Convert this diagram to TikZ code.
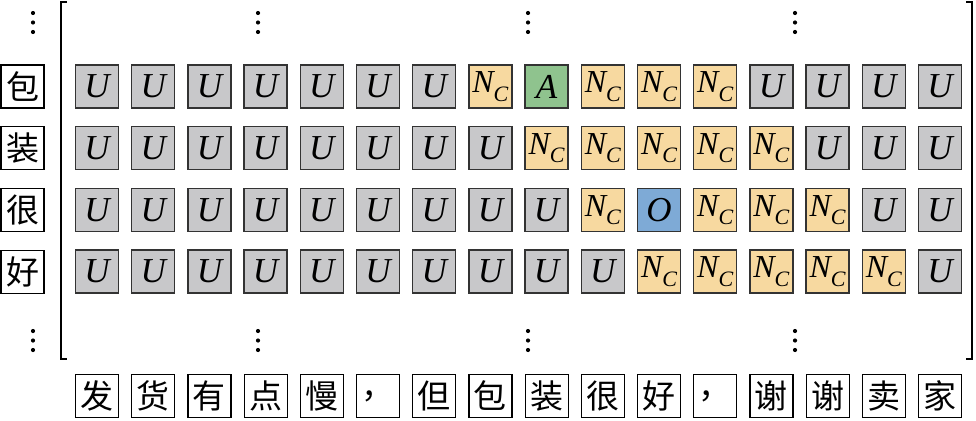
\documentclass[tikz,border=0pt]{standalone}
\usepackage{fontspec}
\setmainfont{Liberation Serif}
\newfontfamily\cjk{Noto Sans CJK SC}
\definecolor{cellU}{HTML}{C8C8CA}
\definecolor{cellN}{HTML}{F7D9A0}
\definecolor{cellA}{HTML}{8FC38E}
\definecolor{cellO}{HTML}{7EAAD6}
\definecolor{edge}{HTML}{333333}
\tikzset{
  cellbox/.style={draw=edge, line width=1.4pt, minimum size=43pt, inner sep=0pt, font=\fontsize{35}{35}\selectfont\itshape},
  ucell/.style={cellbox, fill=cellU},
  ncell/.style={cellbox, fill=cellN, font=\fontsize{32}{32}\selectfont\itshape},
  acell/.style={cellbox, fill=cellA},
  ocell/.style={cellbox, fill=cellO},
  charbox/.style={draw=black, line width=1.2pt, fill=white, minimum size=43pt, inner sep=0pt, font=\fontsize{33}{33}\selectfont\cjk},
  dotmark/.style={fill=black, draw=none},
  brk/.style={line width=1.5pt, draw=black}
}
\newcommand{\Nc}{N\raisebox{-0.26em}{\fontsize{22}{22}\selectfont C}}
\begin{document}
\begin{tikzpicture}[x=1pt,y=-1pt]
\useasboundingbox (0,0) rectangle (976,420);
% brackets
\coordinate (bl1) at (67,2);
\coordinate (bl2) at (61,2);
\coordinate (bl3) at (61,359);
\coordinate (bl4) at (67,359);
\draw[brk] (bl1) -- (bl2) -- (bl3) -- (bl4);
\coordinate (br1) at (966,2);
\coordinate (br2) at (972,2);
\coordinate (br3) at (972,359);
\coordinate (br4) at (966,359);
\draw[brk] (br1) -- (br2) -- (br3) -- (br4);
% vertical dots
\foreach \x in {33, 258, 528, 795}{
  \foreach \y in {13, 22.5, 32, 331, 340.5, 350}{
    \fill[dotmark] (\x,\y) circle (2.1);
  }
}
% left characters
\foreach \c [count=\j from 0] in {包,装,很,好}{
  \node[charbox] (L\j) at (22.5,86.5+61.7*\j) {\c};
}
% grid
\foreach \r [count=\j from 0] in {
  {u,u,u,u,u,u,u,n,a,n,n,n,u,u,u,u},
  {u,u,u,u,u,u,u,u,n,n,n,n,n,u,u,u},
  {u,u,u,u,u,u,u,u,u,n,o,n,n,n,u,u},
  {u,u,u,u,u,u,u,u,u,u,n,n,n,n,n,u}}{
  \foreach \t [count=\i from 0] in \r {
    \pgfmathsetmacro{\cx}{97+56.2*\i}
    \pgfmathsetmacro{\cy}{86.5+61.7*\j}
    \if\t u\node[ucell] (c\j-\i) at (\cx,\cy) {U};\fi
    \if\t n\node[ncell] (c\j-\i) at (\cx,\cy) {\Nc};\fi
    \if\t a\node[acell] (c\j-\i) at (\cx,\cy) {A};\fi
    \if\t o\node[ocell] (c\j-\i) at (\cx,\cy) {O};\fi
  }
}
% bottom characters
\foreach \c [count=\i from 0] in {发,货,有,点,慢,，,但,包,装,很,好,，,谢,谢,卖,家}{
  \pgfmathsetmacro{\cx}{97+56.2*\i}
  \node[charbox] (B\i) at (\cx,396) {\c};
}
\end{tikzpicture}
\end{document}
